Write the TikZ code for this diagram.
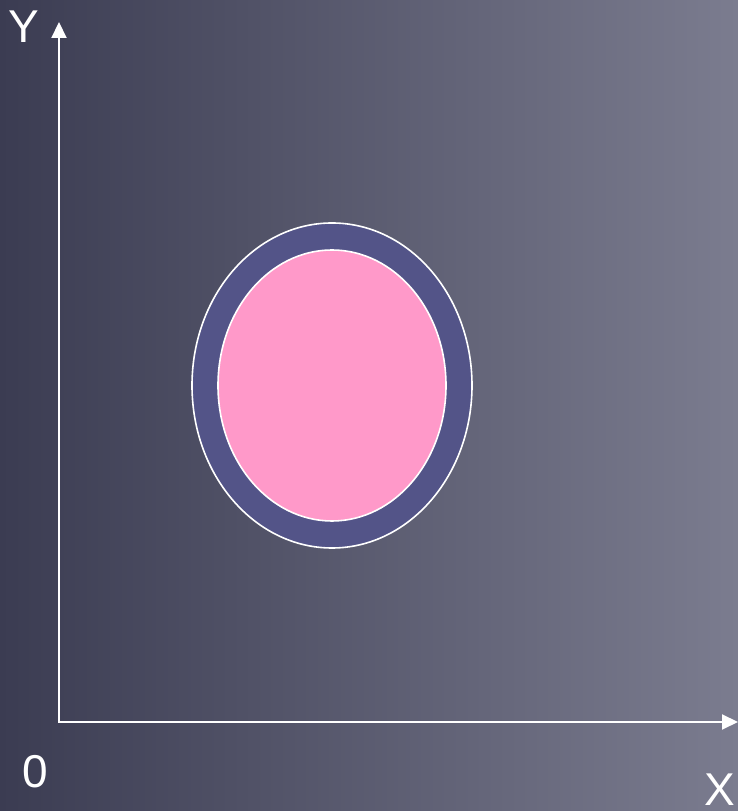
\documentclass[tikz,border=0pt]{standalone}
\usepackage{fontspec}
\setmainfont{Liberation Sans}
\usetikzlibrary{arrows.meta}
\definecolor{bgleft}{HTML}{3B3C52}
\definecolor{bgright}{HTML}{7B7C8F}
\definecolor{ringblue}{HTML}{535488}
\definecolor{corepink}{HTML}{FF99C9}
\tikzset{
  axis/.style={draw=white, line width=2pt, -{Triangle[length=16pt,width=15pt]}},
  lbl/.style={text=white, font=\fontsize{46}{50}\selectfont, inner sep=0pt},
  ring/.style={draw=white, line width=1.6pt}
}
\begin{document}
\begin{tikzpicture}[x=1pt,y=1pt]
\useasboundingbox (0,0) rectangle (738,811);
\shade[left color=bgleft, right color=bgright] (0,0) rectangle (738,811);
% axes
\coordinate (O) at (59,89);
\coordinate (ytip) at (59,789);
\coordinate (xtip) at (738,89);
\draw[axis] ([yshift=-1pt]O) -- (ytip);
\draw[axis] ([xshift=-1pt]O) -- (xtip);
% labels
\node[lbl] (ylab) at (24,784) {Y};
\node[lbl] (zlab) at (35,39) {0};
\node[lbl] (xlab) at (720,21) {X};
% ellipses
\coordinate (c) at (332,425.5);
\filldraw[ring, fill=ringblue] (c) ellipse [x radius=140, y radius=162.5];
\filldraw[ring, fill=corepink] (c) ellipse [x radius=114, y radius=135.5];
\end{tikzpicture}
\end{document}
